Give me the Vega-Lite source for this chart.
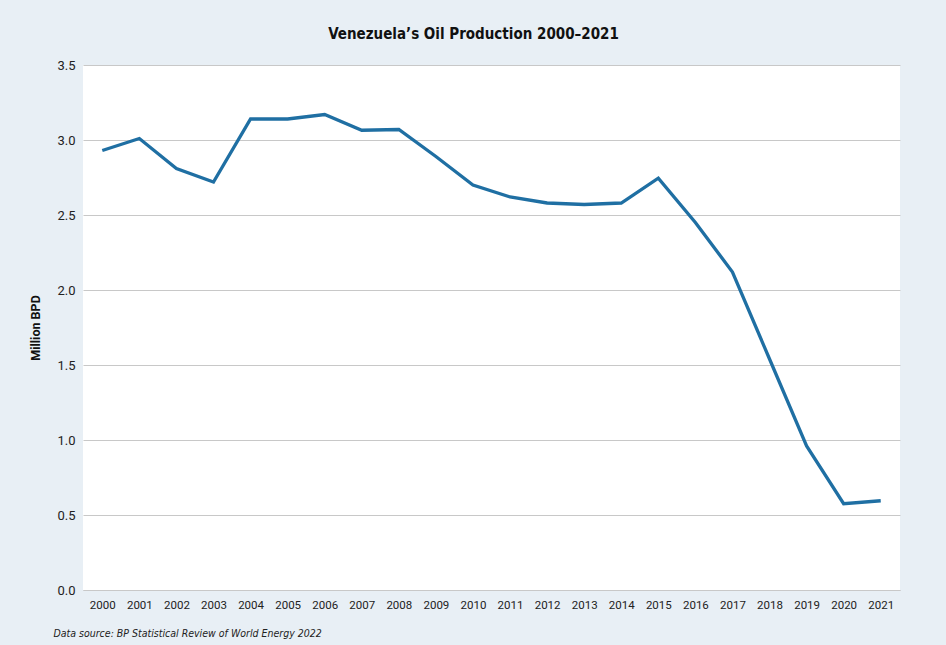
{
  "$schema": "https://vega.github.io/schema/vega-lite/v6.json",
  "width": 817,
  "height": 525,
  "autosize": {"type": "none"},
  "padding": {"left": 83, "top": 65, "right": 46, "bottom": 55},
  "background": "#e8eff5",
  "config": {
    "view": {"fill": "white", "stroke": null},
    "font": "Roboto"
  },
  "title": {
    "text": "Venezuela’s Oil Production 2000–2021",
    "font": "DejaVu Sans Condensed, Roboto, sans-serif",
    "fontSize": 15,
    "fontWeight": "bold",
    "color": "#111111",
    "anchor": "middle",
    "dx": -18,
    "offset": 17
  },
  "data": {
    "values": [
      {"year": "2000", "production": 2.93},
      {"year": "2001", "production": 3.01},
      {"year": "2002", "production": 2.81},
      {"year": "2003", "production": 2.72},
      {"year": "2004", "production": 3.14},
      {"year": "2005", "production": 3.14},
      {"year": "2006", "production": 3.17},
      {"year": "2007", "production": 3.065},
      {"year": "2008", "production": 3.07},
      {"year": "2009", "production": 2.89},
      {"year": "2010", "production": 2.70},
      {"year": "2011", "production": 2.62},
      {"year": "2012", "production": 2.58},
      {"year": "2013", "production": 2.57},
      {"year": "2014", "production": 2.58},
      {"year": "2015", "production": 2.745},
      {"year": "2016", "production": 2.45},
      {"year": "2017", "production": 2.12},
      {"year": "2018", "production": 1.54},
      {"year": "2019", "production": 0.96},
      {"year": "2020", "production": 0.575},
      {"year": "2021", "production": 0.595}
    ]
  },
  "mark": {"type": "line", "color": "#1f6fa3", "strokeWidth": 3.3, "strokeJoin": "miter"},
  "encoding": {
    "x": {
      "field": "year",
      "type": "ordinal",
      "scale": {"type": "point", "padding": 0.52},
      "axis": {
        "title": "Data source: BP Statistical Review of World Energy 2022",
        "titleFont": "DejaVu Sans Condensed, Roboto, sans-serif",
        "titleFontStyle": "italic",
        "titleFontWeight": "normal",
        "titleFontSize": 10.5,
        "titleColor": "#222222",
        "titleAnchor": "start",
        "titleAlign": "left",
        "titleX": -30,
        "titleY": 38,
        "labelAngle": 0,
        "labelFontSize": 11.5,
        "labelColor": "#222222",
        "labelPadding": 9,
        "ticks": false,
        "domainColor": "#c8c8c8",
        "domainWidth": 1.2,
        "grid": false
      }
    },
    "y": {
      "field": "production",
      "type": "quantitative",
      "scale": {"domain": [0, 3.5]},
      "axis": {
        "title": "Million BPD",
        "titleFont": "Roboto",
        "titleFontWeight": "bold",
        "titleFontSize": 12.5,
        "titleColor": "#111111",
        "titlePadding": 14,
        "values": [0, 0.5, 1, 1.5, 2, 2.5, 3, 3.5],
        "format": ".1f",
        "labelFontSize": 13,
        "labelColor": "#222222",
        "labelPadding": 8,
        "ticks": false,
        "domain": false,
        "grid": true,
        "gridColor": "#c8c8c8",
        "gridWidth": 1.2
      }
    }
  }
}
